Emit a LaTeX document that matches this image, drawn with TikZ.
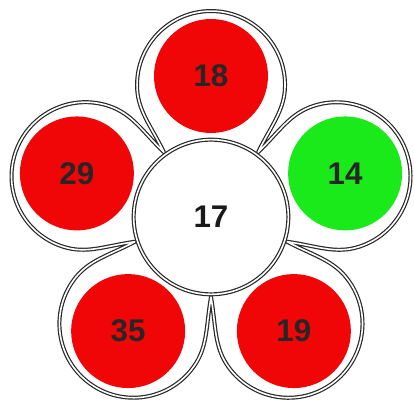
\documentclass[tikz,border=0pt]{standalone}
\usepackage{fontspec}
\setmainfont{Liberation Sans}
\usepackage{xcolor}
\usepackage{tikz}
\definecolor{dotred}{RGB}{240,6,6}
\definecolor{dotgreen}{RGB}{26,234,26}
\definecolor{rim}{RGB}{40,40,40}

\begin{document}
\begin{tikzpicture}[x=0.75pt,y=0.75pt,font=\bfseries\fontsize{23.5}{24}\selectfont]
\tikzset{rimline/.style={draw=rim,line width=0.9pt,double=white,double distance=1.2pt,line join=round},
  dot/.style={circle,minimum size=85.5pt,inner sep=0pt,text=black!85},
  hub/.style={circle,rimline,fill=white,minimum size=116pt,inner sep=0pt,text=black!90}}
\useasboundingbox (-211,-189) rectangle (203,217);
% flower outline, one lobe per petal, slits between
\draw[rimline,fill=white] (-18:80)
  \foreach \a in {18,90,162,234,306}{
    .. controls (\a-33.3:109.7) and (\a-34.7:130.1) .. (\a-29.3:151.3)
    arc[start angle=\a-90,end angle=\a+90,radius=74]
    .. controls (\a+34.7:130.1) and (\a+33.3:109.7) .. (\a+36:80)
  } -- cycle;
% centre
\node[hub] (n17) at (0,0){17};
% petal values
\foreach \a/\v/\c in {90/18/dotred,18/14/dotgreen,-54/19/dotred,-126/35/dotred,162/29/dotred}
  \node[dot,fill=\c] (n\v) at (\a:141){\v};
\end{tikzpicture}
\end{document}
